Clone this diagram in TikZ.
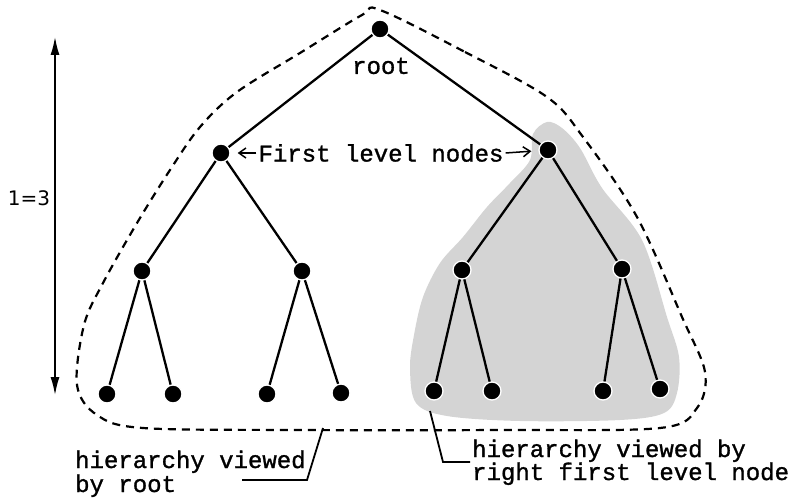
\documentclass[tikz,border=0pt]{standalone}
\usepackage{fontspec}
\usetikzlibrary{arrows.meta}
\newfontfamily\cour{Liberation Mono}[FakeBold=1.2]
\newfontfamily\dejasans{DejaVu Sans}
\definecolor{blobgray}{RGB}{212,212,212}
\begin{document}
\begin{tikzpicture}[x=1pt,y=-1pt,
  dot/.style={circle,fill=black,draw=white,line width=1.3pt,inner sep=0pt,minimum size=18pt},
  treeedge/.style={line width=2.3pt},
  hullline/.style={line width=2.2pt,dash pattern=on 8pt off 6pt},
  lbl/.style={font=\cour\fontsize{24}{24}\selectfont,inner sep=0pt},
  leader/.style={line width=1.8pt},
  flarrow/.style={line width=1.5pt,-{Straight Barb[length=7pt,width=10pt]},shorten >=7pt}]
\useasboundingbox (0,0) rectangle (792,500);

% shaded region of right first level node
\fill[blobgray] plot[smooth cycle,tension=0.55] coordinates {
  (547,122) (562,128) (580,148) (602,188) (642,240) (667,317) (679,357) (677,393)
  (664,413) (620,420) (520,421) (447,416) (416,403) (410,368) (414,335)
  (423,297) (440,263) (463,237) (487,207) (510,183) (530,160) (533,134)};

% dashed hull of the root hierarchy
\draw[hullline] plot[smooth cycle,tension=0.55] coordinates {
  (380,10) (465,52) (547,97) (583,137) (637,217) (682,317) (705,372)
  (697,408) (660,428) (500,430) (300,430) (143,428) (97,415) (77,385)
  (84,325) (103,283) (137,223) (170,170) (200,127) (237,92) (300,53) (362,15)};

% nodes
\node[dot] (r) at (380,29) {};
\node[dot] (a) at (221,153) {};
\node[dot] (b) at (548,150) {};
\node[dot] (a1) at (142,271) {};
\node[dot] (a2) at (302,271) {};
\node[dot] (b1) at (462,270) {};
\node[dot] (b2) at (622,269) {};
\node[dot] (a11) at (107,394) {};
\node[dot] (a12) at (173,394) {};
\node[dot] (a21) at (267,394) {};
\node[dot] (a22) at (341,393) {};
\node[dot] (b11) at (434,391) {};
\node[dot] (b12) at (492,391) {};
\node[dot] (b21) at (603,391) {};
\node[dot] (b22) at (660,389) {};

% edges
\draw[treeedge] (r) -- (a);
\draw[treeedge] (r) -- (b);
\draw[treeedge] (a) -- (a1);
\draw[treeedge] (a) -- (a2);
\draw[treeedge] (b) -- (b1);
\draw[treeedge] (b) -- (b2);
\draw[treeedge] (a1) -- (a11);
\draw[treeedge] (a1) -- (a12);
\draw[treeedge] (a2) -- (a21);
\draw[treeedge] (a2) -- (a22);
\draw[treeedge] (b1) -- (b11);
\draw[treeedge] (b1) -- (b12);
\draw[treeedge] (b2) -- (b21);
\draw[treeedge] (b2) -- (b22);

% labels
\node[lbl] (rootlbl) at (381,66) {root};
\node[lbl,inner xsep=2pt] (fl) at (381,153) {First level nodes};
\draw[flarrow] (fl.west) -- (a);
\draw[flarrow] (fl.east) -- (b);

% level arrow
\coordinate (atop) at (55,37);
\coordinate (abot) at (55,395);
\draw[line width=1.5pt,{Latex[length=18pt,width=9pt]}-{Latex[length=18pt,width=9pt]}] (atop) -- (abot);
\node[font=\dejasans\fontsize{20}{20}\selectfont,inner sep=0pt] (lvl) at (29,198) {1=3};

% bottom captions
\node[lbl,anchor=base west] (c1a) at (75,468) {hierarchy viewed};
\node[lbl,anchor=base west] (c1b) at (75,492) {by root};
\coordinate (l1a) at (323,428);
\coordinate (l1b) at (307,480);
\coordinate (l1c) at (242,480);
\draw[leader] (l1a) -- (l1b) -- (l1c);

\node[lbl,anchor=base west] (c2a) at (472,457) {hierarchy viewed by};
\node[lbl,anchor=base west] (c2b) at (472,480) {right first level node};
\coordinate (l2a) at (430,411);
\coordinate (l2b) at (443,462);
\coordinate (l2c) at (470,462);
\draw[leader] (l2a) -- (l2b) -- (l2c);
\end{tikzpicture}
\end{document}
